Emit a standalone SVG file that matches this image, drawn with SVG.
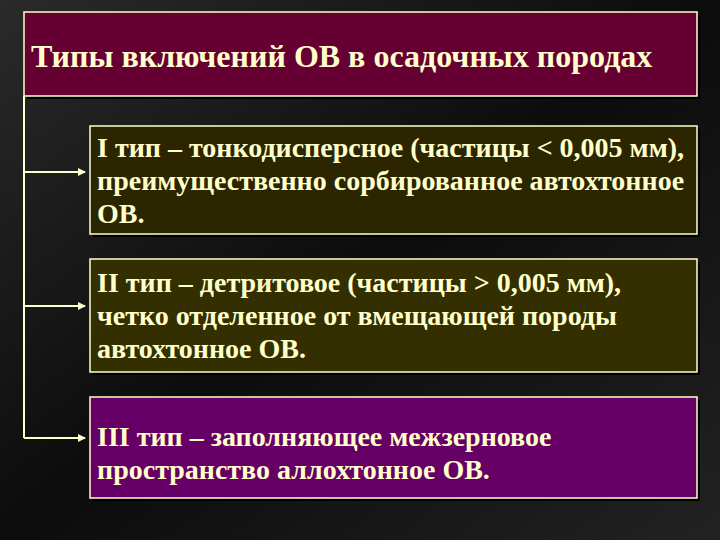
<svg xmlns="http://www.w3.org/2000/svg" width="720" height="540" viewBox="0 0 720 540">
<defs>
<linearGradient id="bg" x1="0" y1="0" x2="1" y2="1">
<stop offset="0" stop-color="#2a2a2a"/>
<stop offset="0.5" stop-color="#0c0c0c"/>
<stop offset="1" stop-color="#222222"/>
</linearGradient>
<marker id="arr" markerWidth="8" markerHeight="8" refX="7" refY="4" orient="auto" markerUnits="userSpaceOnUse">
<path d="M0,0 L8,4 L0,8 Z" fill="#ffffcc"/>
</marker>
</defs>
<style>
.box{stroke:#ffffcc;stroke-width:1.5}
.sh{fill:#000000}
text{font-family:'Liberation Serif','Times New Roman',serif;font-weight:bold;fill:#ffffcc;font-size:28px}
.title{font-size:32px}
.conn{stroke:#ffffcc;stroke-width:2;fill:none}
</style>
<rect width="720" height="540" fill="url(#bg)"/>
<g id="title">
<rect class="sh" x="27" y="15" width="673" height="84"/>
<rect class="box" x="24" y="12" width="673" height="84" fill="#660033"/>
<text class="title" x="31" y="67">Типы включений ОВ в осадочных породах</text>
</g>
<g id="connectors">
<path class="conn" d="M24,96 V438"/>
<path class="conn" d="M24,172 H85" marker-end="url(#arr)"/>
<path class="conn" d="M24,306 H85" marker-end="url(#arr)"/>
<path class="conn" d="M24,438 H85" marker-end="url(#arr)"/>
</g>
<g id="type1">
<rect class="sh" x="93" y="129" width="607" height="108"/>
<rect class="box" x="90" y="126" width="607" height="108" fill="#2b2600"/>
<text x="97" y="157">I тип – тонкодисперсное (частицы &lt; 0,005 мм),</text>
<text x="97" y="190">преимущественно сорбированное автохтонное</text>
<text x="97" y="223">ОВ.</text>
</g>
<g id="type2">
<rect class="sh" x="93" y="262" width="607" height="113"/>
<rect class="box" x="90" y="259" width="607" height="113" fill="#332f00"/>
<text x="97" y="292">II тип – детритовое (частицы &gt; 0,005 мм),</text>
<text x="97" y="325">четко отделенное от вмещающей породы</text>
<text x="97" y="358">автохтонное ОВ.</text>
</g>
<g id="type3">
<rect class="sh" x="93" y="400" width="607" height="101"/>
<rect class="box" x="90" y="397" width="607" height="101" fill="#660066"/>
<text x="97" y="446">III тип – заполняющее межзерновое</text>
<text x="97" y="479">пространство аллохтонное ОВ.</text>
</g>
</svg>
